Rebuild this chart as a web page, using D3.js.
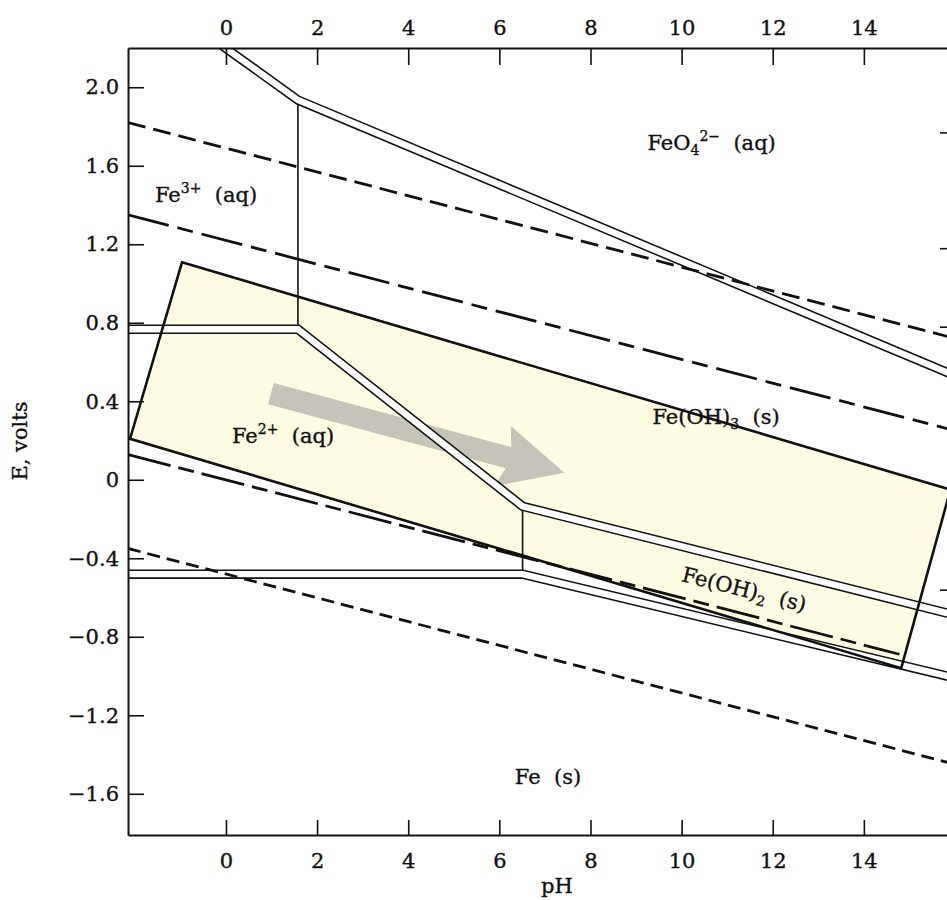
<!DOCTYPE html>
<html><head><meta charset="utf-8">
<script src="https://cdn.jsdelivr.net/npm/d3@7"></script>
<style>body{margin:0;background:#fff}svg{display:block}text{white-space:pre}</style>
</head><body><svg id="chart" width="947" height="900"></svg>
<script>
// ---- data (pH, E in volts) ----
const pHTicks = [0, 2, 4, 6, 8, 10, 12, 14];
const eTicks = [-1.6, -1.2, -0.8, -0.4, 0, 0.4, 0.8, 1.2, 1.6, 2.0];
const eTicksRight = [1.77, 1.18, 0.78, -0.56];

// water stability lines (dashed)
const o2Over = [[-2.15, 1.82], [16, 0.72]];
const o2Line = [[-2.15, 1.35], [16, 0.25]];
const h2Line = [[-2.15, 0.128], [14.78, -0.889]];
const h2Over = [[-2.15, -0.35], [16, -1.45]];

// phase boundaries (double lines)
const feo4Boundary = [[-0.1, 2.215], [1.58, 1.935], [16, 0.53]];
const fe3Boundary = [[-2.15, 0.767], [1.58, 0.767], [6.51, -0.135], [16, -0.69]];
const feBoundary = [[-2.15, -0.481], [6.51, -0.481], [16, -1.01]];
// single vertical boundaries
const fe3Vertical = [[1.58, 1.935], [1.58, 0.79]];
const fe2Vertical = [[6.51, -0.135], [6.51, -0.46]];

// highlighted region and arrow
const regionBox = [[-0.965, 1.108], [15.9, -0.05], [14.82, -0.96], [-2.105, 0.209]];
const arrowFrom = [0.987, 0.439];
const arrowTo = [7.43, 0.036];

// species labels: parts [text, kind], anchor [pH, E], rotation
const speciesLabels = [
  {parts: [["FeO", ""], ["4", "sub"], ["2\u2212", "supAfterSub"], ["  (aq)", "back"]], at: [9.25, 1.68], rot: 0},
  {parts: [["Fe", ""], ["3+", "sup"], ["  (aq)", "back"]], at: [-1.56, 1.415], rot: 0},
  {parts: [["Fe", ""], ["2+", "sup"], ["  (aq)", "back"]], at: [0.13, 0.189], rot: 0},
  {parts: [["Fe(OH)", ""], ["3", "sub"], ["  (s)", "backSub"]], at: [9.36, 0.286], rot: 0},
  {parts: [["Fe(OH)", ""], ["2", "sub"], ["  (s)", "backSub"]], at: [9.98, -0.516], rot: 14},
  {parts: [["Fe  (s)", ""]], at: [6.34, -1.548], rot: 0}
];

// ---- drawing ----
const svg = d3.select("#chart");
const W = 947, H = 900;
const mLeft = 128, mRight = 955, mTop = 48, mBottom = 835;
const x = d3.scaleLinear().domain([-2.15, 16]).range([mLeft, mRight]);
const y = d3.scaleLinear().domain([-1.81, 2.2]).range([mBottom, mTop]);
const line = d3.line().x(d => x(d[0])).y(d => y(d[1]));
const FONT = "'DejaVu Serif', 'Liberation Serif', serif";
const INK = "#111";

svg.append("rect").attr("width", W).attr("height", H).attr("fill", "#fff");
svg.append("clipPath").attr("id", "plotClip").append("rect")
  .attr("x", mLeft).attr("y", mTop).attr("width", mRight - mLeft).attr("height", mBottom - mTop);
const g = svg.append("g").attr("clip-path", "url(#plotClip)");

// region fill
g.append("path").attr("d", line(regionBox) + "Z").attr("fill", "#fdfbe2").attr("stroke", "none");

// arrow
{
  const x1 = x(arrowFrom[0]), y1 = y(arrowFrom[1]), x2 = x(arrowTo[0]), y2 = y(arrowTo[1]);
  const dx = x2 - x1, dy = y2 - y1, len = Math.hypot(dx, dy);
  const ux = dx / len, uy = dy / len, nx = -uy, ny = ux;
  const hw = 11, headL = 58, headW = 31, sweep = 6;
  const bx = x2 - ux * headL, by = y2 - uy * headL;
  const pts = [
    [x1 - nx * hw, y1 - ny * hw],
    [bx - nx * hw, by - ny * hw],
    [bx - nx * headW - ux * sweep, by - ny * headW - uy * sweep],
    [x2, y2],
    [bx + nx * headW - ux * sweep, by + ny * headW - uy * sweep],
    [bx + nx * hw, by + ny * hw],
    [x1 + nx * hw, y1 + ny * hw]
  ];
  g.append("path").attr("d", "M" + pts.map(p => p.join(",")).join("L") + "Z")
    .attr("fill", "#c6c4b8").attr("stroke", "none");
}

// single vertical lines
[fe3Vertical, fe2Vertical].forEach(d => {
  g.append("path").attr("d", line(d)).attr("fill", "none").attr("stroke", INK).attr("stroke-width", 1.6);
});

// double lines
function doubleLine(d) {
  g.append("path").attr("d", line(d)).attr("fill", "none").attr("stroke", INK)
    .attr("stroke-width", 9.5).attr("stroke-linejoin", "miter");
  g.append("path").attr("d", line(d)).attr("fill", "none").attr("stroke", "#fff")
    .attr("stroke-width", 6.4).attr("stroke-linejoin", "miter");
}
[feo4Boundary, fe3Boundary, feBoundary].forEach(doubleLine);

// dashed water lines
const dashed = [
  [o2Over, "18,8"],
  [o2Line, "42,9,16,9"],
  [h2Line, "44,8,16,8"],
  [h2Over, "13,7"]
];
dashed.forEach(([d, dash]) => {
  g.append("path").attr("d", line(d)).attr("fill", "none").attr("stroke", INK)
    .attr("stroke-width", 2.8).attr("stroke-dasharray", dash);
});

// region border
g.append("path").attr("d", line(regionBox) + "Z").attr("fill", "none")
  .attr("stroke", INK).attr("stroke-width", 2.6).attr("stroke-linejoin", "miter");

// species labels
speciesLabels.forEach(lb => {
  const px = x(lb.at[0]), py = y(lb.at[1]);
  const t = svg.append("text").attr("x", px).attr("y", py)
    .attr("font-family", FONT).attr("font-size", 21).attr("fill", INK)
    .attr("stroke", INK).attr("stroke-width", 0.35)
    .attr("transform", lb.rot ? `rotate(${lb.rot},${px},${py})` : null);
  lb.parts.forEach(([s, kind]) => {
    const ts = t.append("tspan").text(s);
    if (kind === "sup") ts.attr("font-size", 14).attr("dy", -9);
    else if (kind === "sub") ts.attr("font-size", 14).attr("dy", 5);
    else if (kind === "supAfterSub") ts.attr("font-size", 14).attr("dy", -14);
    else if (kind === "back") ts.attr("dy", 9);
    else if (kind === "backSub") ts.attr("dy", -5);
  });
});

// axes
const fmtE = d => d === 0 ? "0" : d3.format(".1f")(d);
function styleAxis(a) {
  a.attr("font-family", FONT).attr("font-size", 21);
  a.selectAll("text").attr("fill", INK).attr("stroke", INK).attr("stroke-width", 0.35);
  a.selectAll("line").attr("stroke", INK).attr("stroke-width", 1.6);
  a.select(".domain").attr("stroke", INK).attr("stroke-width", 2);
}
styleAxis(svg.append("g").attr("transform", `translate(${mLeft},0)`)
  .call(d3.axisLeft(y).tickValues(eTicks).tickFormat(fmtE).tickSize(-16).tickSizeOuter(0).tickPadding(9)));
styleAxis(svg.append("g").attr("transform", `translate(0,${mBottom})`)
  .call(d3.axisBottom(x).tickValues(pHTicks).tickFormat(d3.format("d")).tickSize(-15).tickSizeOuter(0).tickPadding(18)));
styleAxis(svg.append("g").attr("transform", `translate(0,${mTop})`)
  .call(d3.axisTop(x).tickValues(pHTicks).tickFormat(d3.format("d")).tickSize(-17).tickSizeOuter(0).tickPadding(13)));
styleAxis(svg.append("g").attr("transform", `translate(${mRight},0)`)
  .call(d3.axisRight(y).tickValues(eTicksRight).tickFormat("").tickSize(-15).tickSizeOuter(0)));

// axis titles
svg.append("text").attr("x", 557).attr("y", 893).attr("text-anchor", "middle")
  .attr("font-family", FONT).attr("font-size", 21).attr("fill", INK)
  .attr("stroke", INK).attr("stroke-width", 0.35).text("pH");
svg.append("text").attr("transform", "translate(27,441) rotate(-90)").attr("text-anchor", "middle")
  .attr("font-family", FONT).attr("font-size", 21).attr("fill", INK)
  .attr("stroke", INK).attr("stroke-width", 0.35).text("E, volts");
</script></body></html>
